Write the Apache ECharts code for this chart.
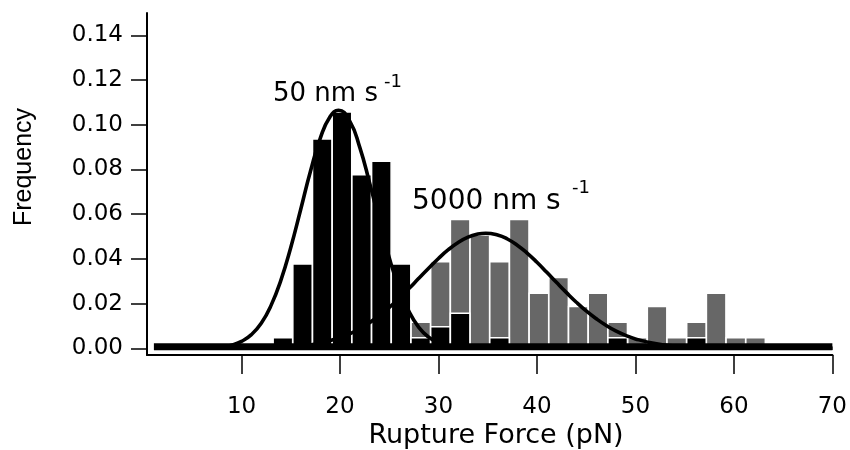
<!DOCTYPE html>
<html>
<head>
<meta charset="utf-8">
<script src="https://cdn.jsdelivr.net/npm/echarts@6/dist/echarts.min.js"></script>
<style>
  html, body { margin: 0; padding: 0; background: #fff; }
  #main { width: 850px; height: 450px; }
</style>
</head>
<body>
<div id="main"></div>
<script>
// histogram bin centres (pN) and frequencies
var fastBins = [28.2, 30.2, 32.2, 34.2, 36.2, 38.2, 40.2, 42.2, 44.2, 46.2, 48.2, 50.2, 52.2, 54.2, 56.2, 58.2, 60.2, 62.2];
var fastFreq = [0.012, 0.039, 0.058, 0.051, 0.039, 0.058, 0.025, 0.032, 0.019, 0.025, 0.012, 0.005, 0.019, 0.005, 0.012, 0.025, 0.005, 0.005];

var slowBins = [14.2, 16.2, 18.2, 20.2, 22.2, 24.2, 26.2, 28.2, 30.2, 32.2, 36.2, 48.2, 56.2];
var slowFreq = [0.005, 0.038, 0.094, 0.106, 0.078, 0.084, 0.038, 0.005, 0.010, 0.016, 0.005, 0.005, 0.005];

// fitted curves
var slowFitX = [1.2, 6, 8, 9, 10, 11, 12, 13, 14, 15, 16, 17, 18, 19, 19.85, 21, 22, 23, 24, 25, 26, 27, 28, 29, 30, 31, 32, 34, 40, 70];
var slowFitY = [0, 0.0001, 0.0006, 0.0014, 0.0031, 0.0061, 0.0112, 0.0192, 0.0305, 0.0451, 0.062, 0.0792, 0.094, 0.1037, 0.1065, 0.1015, 0.090, 0.0741, 0.0568, 0.0405, 0.0268, 0.0165, 0.0094, 0.005, 0.0025, 0.0011, 0.0005, 0.0001, 0, 0];

var fastFitX = [1.2, 12, 16, 20, 22, 24, 26, 27, 28, 29, 30, 31, 32, 33, 34, 34.8, 36, 37, 38, 39, 40, 41, 42, 43, 44, 45, 46, 47, 48, 49, 50, 52, 54, 56, 60, 70];
var fastFitY = [0, 0.0002, 0.0011, 0.0048, 0.0088, 0.0146, 0.0223, 0.0267, 0.0313, 0.0358, 0.0402, 0.0441, 0.0473, 0.0497, 0.0511, 0.0515, 0.0507, 0.0489, 0.0461, 0.0426, 0.0385, 0.034, 0.0294, 0.0249, 0.0206, 0.0167, 0.0133, 0.0103, 0.0078, 0.0058, 0.0042, 0.0021, 0.001, 0.0004, 0.0001, 0];

// thick black base line under the histograms
var baseX = [1.1, 70];
var baseY = [0.0007, 0.0007];

var xTicks = [10, 20, 30, 40, 50, 60, 70];
var yTicks = [0, 0.02, 0.04, 0.06, 0.08, 0.10, 0.12, 0.14];

function pairs(xs, ys) {
	var out = [];
	for (var i = 0; i < xs.length; i++) {
		out.push([xs[i], ys[i]]);
	}
	return out;
}

var chart = echarts.init(document.getElementById('main'), null, { renderer: 'canvas' });
var tickFont = 'DejaVu Sans';

chart.setOption({
	animation: false,
	backgroundColor: '#fff',
	grid: { left: 147, right: 17, top: 13, bottom: 95 },
	xAxis: {
		type: 'value',
		min: 0.4,
		max: 70,
		axisLine: { onZero: false, lineStyle: { color: '#000', width: 2 } },
		axisTick: { show: true, inside: false, length: 19, customValues: xTicks, lineStyle: { color: '#000', width: 1.5 } },
		axisLabel: { customValues: xTicks, margin: 41, color: '#000', fontFamily: tickFont, fontSize: 23 },
		splitLine: { show: false }
	},
	yAxis: {
		type: 'value',
		min: -0.003,
		max: 0.15,
		axisLine: { show: true, onZero: false, lineStyle: { color: '#000', width: 2 } },
		axisTick: { show: true, inside: false, length: 16, customValues: yTicks, lineStyle: { color: '#000', width: 1.5 } },
		axisLabel: {
			customValues: yTicks, margin: 24, color: '#000', fontFamily: tickFont, fontSize: 23,
			padding: [5, 0, 0, 0],
			formatter: function (v) { return v.toFixed(2); }
		},
		splitLine: { show: false }
	},
	series: [
		{
			name: '5000 nm/s',
			type: 'bar',
			data: pairs(fastBins, fastFreq),
			barWidth: 21,
			barGap: '-100%',
			itemStyle: { color: '#676767', borderColor: '#fff', borderWidth: 1.5 },
			z: 2
		},
		{
			name: '50 nm/s',
			type: 'bar',
			data: pairs(slowBins, slowFreq),
			barWidth: 21,
			barGap: '-100%',
			itemStyle: { color: '#000', borderColor: '#fff', borderWidth: 1.5 },
			z: 3
		},
		{
			name: 'base',
			type: 'line',
			data: pairs(baseX, baseY),
			showSymbol: false,
			lineStyle: { color: '#000', width: 7 },
			z: 4
		},
		{
			name: 'fit 50',
			type: 'line',
			data: pairs(slowFitX, slowFitY),
			smooth: true,
			showSymbol: false,
			lineStyle: { color: '#000', width: 3.6 },
			z: 5
		},
		{
			name: 'fit 5000',
			type: 'line',
			data: pairs(fastFitX, fastFitY),
			smooth: true,
			showSymbol: false,
			lineStyle: { color: '#000', width: 3.6 },
			z: 5
		}
	],
	graphic: [
		{ type: 'text', x: 273, y: 94, style: { text: '50 nm s', font: '26px "DejaVu Sans"', fill: '#000', verticalAlign: 'middle' } },
		{ type: 'text', x: 384, y: 82, style: { text: '-1', font: '18px "DejaVu Sans"', fill: '#000', verticalAlign: 'middle' } },
		{ type: 'text', x: 412, y: 202, style: { text: '5000 nm s', font: '28px "DejaVu Sans"', fill: '#000', verticalAlign: 'middle' } },
		{ type: 'text', x: 572, y: 188, style: { text: '-1', font: '18px "DejaVu Sans"', fill: '#000', verticalAlign: 'middle' } },
		{ type: 'text', x: 24, y: 167, rotation: Math.PI / 2, style: { text: 'Frequency', font: '25px "Liberation Sans"', fill: '#000', align: 'center', verticalAlign: 'middle' } },
		{ type: 'text', x: 496, y: 436, style: { text: 'Rupture Force (pN)', font: '27px "DejaVu Sans"', fill: '#000', align: 'center', verticalAlign: 'middle' } }
	]
});
</script>
</body>
</html>
